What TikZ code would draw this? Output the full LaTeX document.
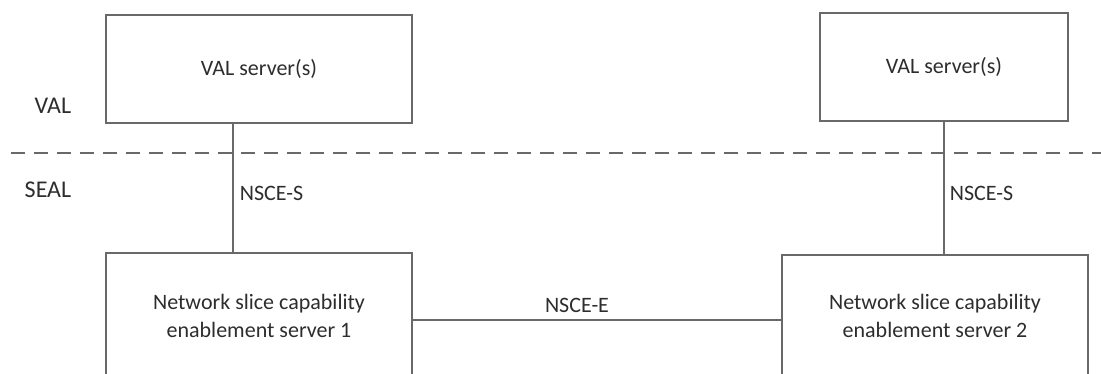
\documentclass[tikz,border=0pt]{standalone}
\usepackage{fontspec}
\setmainfont{Carlito}
\definecolor{boxline}{RGB}{105,105,105}
\definecolor{boxtext}{RGB}{45,45,45}
\tikzset{
  server/.style={draw=boxline,align=center,text=boxtext,
    font=\fontsize{22}{28}\selectfont,inner sep=0pt},
  ifname/.style={text=boxtext,font=\fontsize{22}{26}\selectfont,inner sep=0pt},
  layer/.style={text=boxtext,font=\fontsize{24}{28}\selectfont,inner sep=0pt,anchor=east},
  sep/.style={draw=boxline,dash pattern=on 14pt off 9pt}
}
\begin{document}
\begin{tikzpicture}[x=1pt,y=-1pt,line width=1.6pt]
\useasboundingbox (0,0) rectangle (1101,374);
\clip (0,0) rectangle (1101,374);
% layers
\coordinate (sepL) at (11,153);
\coordinate (sepR) at (1101,153);
\draw[sep] (sepL) -- (sepR);
\node[layer] (val) at (72,106) {VAL};
\node[layer] (seal) at (72,190) {SEAL};
% servers
\node[server,minimum width=306,minimum height=108] (val1) at (259,69) {VAL server(s)};
\node[server,minimum width=248,minimum height=108] (val2) at (944,67) {VAL server(s)};
\node[server,minimum width=306,minimum height=126] (nsce1) at (259,316)
  {Network slice capability\\enablement server 1};
\node[server,minimum width=306,minimum height=122] (nsce2) at (935,316)
  {Network slice capability\\enablement server 2};
% reference points
\coordinate (s1) at (233,0);
\coordinate (e) at (0,320);
\draw[boxline] (val1.south -| s1) -- (nsce1.north -| s1);
\draw[boxline] (val2.south) -- (val2.south |- nsce2.north);
\draw[boxline] (nsce1.east |- e) -- (nsce2.west |- e);
\node[ifname,anchor=west] (nsces1) at (239,193) {NSCE-S};
\node[ifname,anchor=west] (nsces2) at (949,193) {NSCE-S};
\node[ifname] (nscee) at (577,305) {NSCE-E};
\end{tikzpicture}
\end{document}
